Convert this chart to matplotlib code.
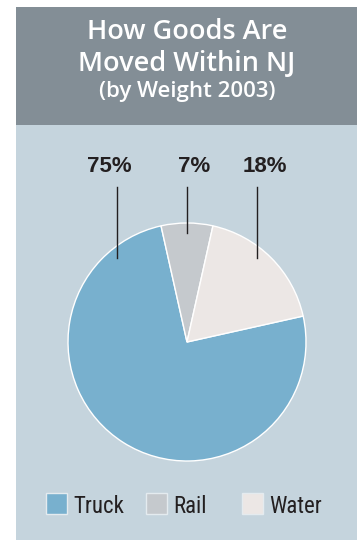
import matplotlib
matplotlib.use("Agg")
import matplotlib.pyplot as plt
import numpy as np
from matplotlib import font_manager as fm
from matplotlib.patches import Rectangle

# Share of goods moved within NJ by weight, 2003
modes = ["Truck", "Rail", "Water"]
shares = [75, 7, 18]
colors = ["#78b0ce", "#c5c9cd", "#ece7e5"]

# angle (deg) where each leader line touches its wedge
leader_angles = [130, 90, 50]

W, H = 357, 540
fig = plt.figure(figsize=(W / 100, H / 100), dpi=100)
fig.patch.set_facecolor("white")

# full-figure overlay in pixel units for the panel, header and legend
bg = fig.add_axes([0, 0, 1, 1])
bg.set_xlim(0, W)
bg.set_ylim(H, 0)
bg.axis("off")
bg.add_patch(Rectangle((16, 125), W - 16, H - 125, color="#c5d4dd", lw=0))
bg.add_patch(Rectangle((16, 7), W - 16, 118, color="#838e96", lw=0))

title_font = ["Open Sans", "DejaVu Sans"]
bg.text(187, 39, "How Goods Are", ha="center", va="baseline", color="white",
        fontsize=19.5, fontweight="semibold", family=title_font)
bg.text(187, 71, "Moved Within NJ", ha="center", va="baseline", color="white",
        fontsize=19.5, fontweight="semibold", family=title_font)
bg.text(187, 97, "(by Weight 2003)", ha="center", va="baseline", color="white",
        fontsize=16, fontweight="semibold", family=title_font)

# pie: center (187, 342), radius 119 px
cx, cy, r = 187, 342, 119
ax = fig.add_axes([(cx - r) / W, (H - cy - r) / H, 2 * r / W, 2 * r / H])
wedges, _ = ax.pie(shares, colors=colors, counterclock=False,
                   startangle=90 + shares[1] / 2 * 3.6 + shares[0] * 3.6 - 360,
                   wedgeprops=dict(edgecolor="white", linewidth=1.0))
ax.set_xlim(-1, 1)
ax.set_ylim(-1, 1)

label_font = ["Liberation Sans", "DejaVu Sans"]
for share, ang in zip(shares, leader_angles):
    x = 0.92 * np.cos(np.radians(ang))
    y = 0.92 * np.sin(np.radians(ang))
    ax.plot([x, x], [y, 1.30], color="#231f20", lw=1.0, clip_on=False)
    ax.text(x + 0.06 * np.sign(x), 1.43, f"{share}%", ha="center", va="baseline",
            fontsize=16, fontweight="bold", color="#231f20", family=label_font,
            clip_on=False)

# legend row: prefer a narrow face if one is installed
installed = {f.name for f in fm.fontManager.ttflist}
narrow = [n for n in ("Liberation Sans Narrow", "Roboto Condensed", "Open Sans Condensed")
          if n in installed]
legend_font = narrow + ["DejaVu Sans"]
for lx, mode, c in zip([46, 146, 242], modes, colors):
    bg.add_patch(Rectangle((lx, 493), 21, 21, facecolor=c, edgecolor="#e4ebef", lw=1.0))
    bg.text(lx + 27, 504, mode, ha="left", va="center_baseline", fontsize=16.5,
            fontstretch="condensed", color="#231f20", family=legend_font)

fig.savefig("out.png", dpi=100)
